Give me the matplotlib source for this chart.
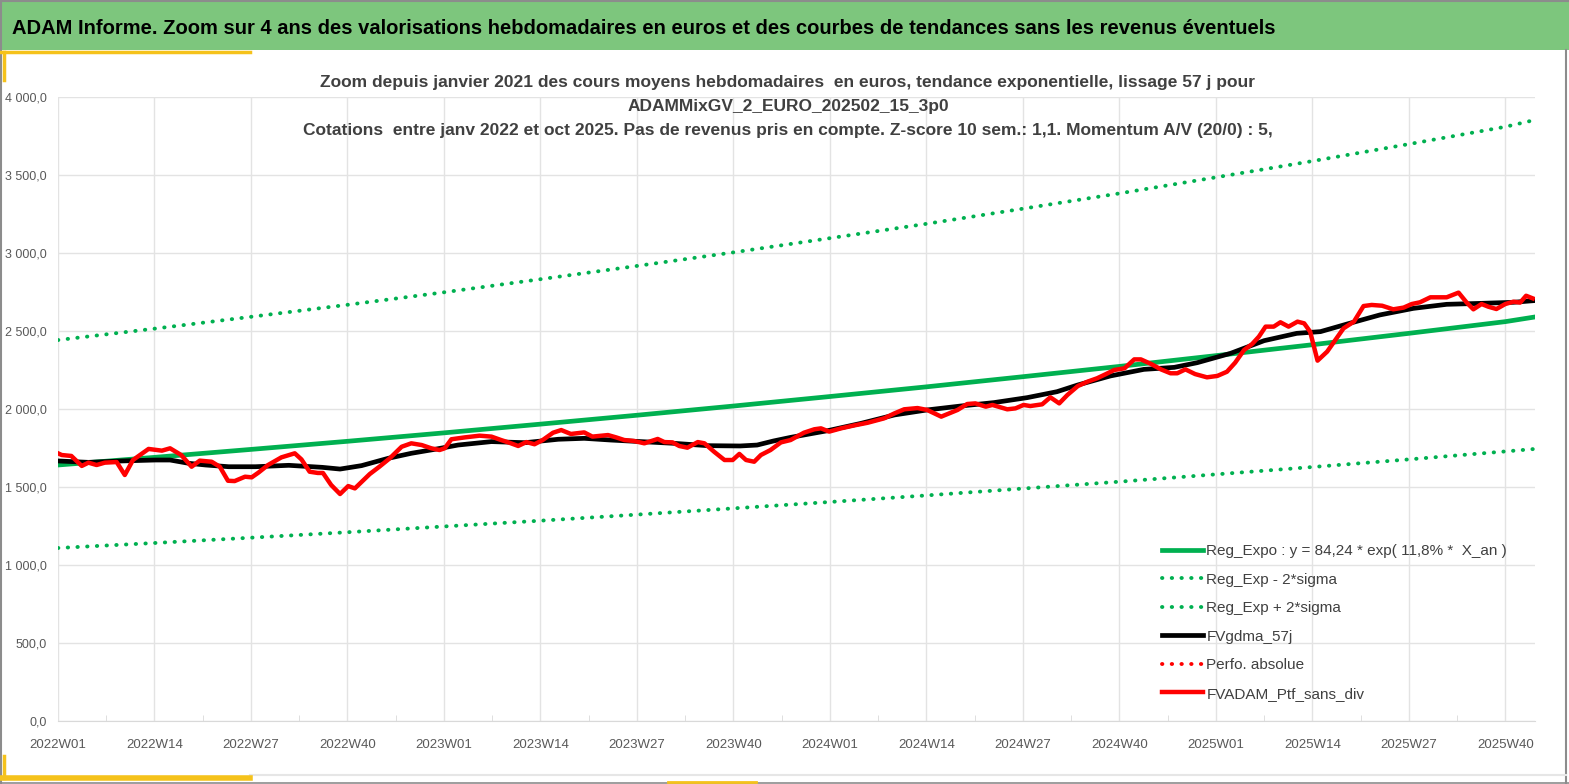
import matplotlib
matplotlib.use("Agg")
import matplotlib.pyplot as plt
from matplotlib.patches import Rectangle
from matplotlib.lines import Line2D

plt.rcParams['font.family'] = ['Liberation Sans Narrow', 'Liberation Sans', 'DejaVu Sans']

# x axis labels every 13 weeks
tick_weeks = [0, 13, 26, 39, 52, 65, 78, 91, 104, 117, 130, 143, 156, 169, 182, 195]
tick_labels = ['2022W01', '2022W14', '2022W27', '2022W40',
               '2023W01', '2023W14', '2023W27', '2023W40',
               '2024W01', '2024W14', '2024W27', '2024W40',
               '2025W01', '2025W14', '2025W27', '2025W40']

# trend + bands (read at grid positions)
trend_weeks = [0, 13, 26, 39, 52, 65, 78, 91, 104, 117, 130, 143, 156, 169, 182, 195, 199]
trend_vals = [1641, 1690, 1741, 1793, 1847, 1903, 1960, 2019, 2080, 2142, 2207, 2273,
              2342, 2412, 2485, 2560, 2590]
upper_vals = [2442, 2515, 2591, 2668, 2748, 2832, 2917, 3004, 3095, 3187, 3284, 3382,
              3485, 3589, 3698, 3809, 3853]
lower_vals = [1109, 1141, 1175, 1210, 1247, 1284, 1323, 1363, 1404, 1446, 1490, 1534,
              1581, 1628, 1677, 1728, 1744]

# smoothed series FVgdma_57j
black_weeks = [0, 4.1, 8.6, 13.1, 15.1, 17.6, 19.9, 23.0, 26.6, 31.1, 35.6, 38.0, 40.9,
               44.5, 47.6, 50.7, 53.9, 58.4, 62.9, 67.4, 70.9, 74.5, 78.5, 83.0, 87.5,
               91.9, 94.2, 96.4, 98.7, 103.7, 108.2, 112.7, 117.1, 121.6, 126.1, 130.6,
               134.6, 137.4, 141.8, 146.3, 150.4, 153.5, 158.0, 162.5, 166.9, 170.1,
               173.7, 178.1, 182.6, 187.1, 191.6, 196.1, 198.7]
black_vals = [1667, 1658, 1667, 1673, 1673, 1652, 1641, 1630, 1630, 1639, 1626, 1615, 1637,
              1684, 1716, 1741, 1769, 1791, 1784, 1806, 1812, 1801, 1791, 1780, 1765,
              1763, 1769, 1795, 1818, 1861, 1908, 1962, 1994, 2019, 2041, 2073,
              2111, 2154, 2212, 2254, 2267, 2297, 2357, 2438, 2485, 2496,
              2545, 2603, 2645, 2671, 2677, 2684, 2694]

# weekly portfolio value FVADAM_Ptf_sans_div
red_weeks = [0, 0.5, 1.8, 3.2, 4.1, 5.2, 6.3, 7.9, 9.0, 10.1, 12.2, 14.0, 15.1, 16.6, 18.0,
             19.1, 20.7, 21.8, 22.9, 23.8, 25.2, 26.1, 27.0, 28.3, 30.1, 31.9, 32.8, 33.9,
             35.0, 35.7, 36.8, 38.0, 39.1, 40.0, 42.0, 43.3, 44.7, 46.3, 47.6, 49.0,
             50.3, 51.4, 52.1, 53.0, 54.8, 56.8, 58.4, 59.7, 60.8, 62.0, 63.1, 64.2, 65.3,
             66.7, 67.8, 69.1, 70.9, 72.0, 74.1, 75.2, 76.3, 77.6, 79.0, 80.8, 81.7, 82.8,
             83.7, 84.8, 86.2, 87.1, 88.4, 89.8, 90.9, 91.8, 92.7, 93.8, 94.7, 96.0, 97.4,
             98.7, 100.5, 101.9, 102.8, 103.9, 105.5, 107.3, 109.1, 111.3, 112.7, 114.0,
             115.8, 117.1, 119.0, 120.3, 121.2, 122.5, 123.6, 125.0, 125.9, 127.9, 129.0,
             130.1, 131.0, 132.6, 133.7, 134.9, 136.0, 137.4, 138.7, 140.0, 141.2, 142.3,
             143.7, 145.0, 145.9, 147.3, 148.6, 149.9, 150.8, 151.9, 153.2, 154.8, 156.2,
             157.5, 158.6, 159.8, 160.9, 161.8, 162.7, 163.8, 164.7, 165.8, 167.0, 167.9,
             168.7, 169.7, 171.0, 172.1, 173.2, 174.6, 175.9, 177.0, 178.4, 179.9, 181.3,
             182.4, 183.5, 184.9, 186.0, 187.1, 188.7, 189.8, 190.7, 191.8, 192.7, 193.8,
             195.0, 196.1, 197.0, 197.8, 198.7]
red_vals = [1716, 1705, 1699, 1635, 1656, 1641, 1656, 1660, 1577, 1673, 1744, 1733, 1748, 1705, 1630,
            1669, 1662, 1630, 1540, 1538, 1566, 1562, 1592, 1641, 1690, 1716, 1677, 1598,
            1590, 1590, 1513, 1455, 1506, 1491, 1583, 1630, 1684, 1758, 1780, 1769,
            1748, 1737, 1748, 1806, 1818, 1829, 1823, 1801, 1784, 1763, 1788, 1774, 1801,
            1848, 1865, 1840, 1850, 1823, 1833, 1818, 1801, 1795, 1780, 1808, 1788, 1786,
            1763, 1752, 1788, 1780, 1726, 1673, 1673, 1712, 1673, 1662, 1705, 1737, 1786,
            1801, 1848, 1870, 1876, 1855, 1876, 1895, 1912, 1940, 1972, 1998,
            2006, 1994, 1951, 1976, 1994, 2032, 2036, 2015, 2026, 1998, 2004,
            2026, 2019, 2030, 2075, 2036, 2090, 2147, 2175, 2197, 2224, 2250,
            2261, 2318, 2318, 2288, 2254, 2229, 2229, 2254, 2224, 2203, 2212,
            2239, 2297, 2378, 2417, 2464, 2528, 2528, 2556, 2528, 2560, 2549,
            2496, 2310, 2368, 2442, 2517, 2560, 2660, 2667, 2662, 2639, 2650,
            2673, 2684, 2716, 2716, 2716, 2746, 2682, 2639, 2673, 2656, 2641,
            2673, 2688, 2682, 2726, 2709]

W, H = 1569, 784
fig = plt.figure(figsize=(W / 100, H / 100), dpi=100)
fig.patch.set_facecolor('white')


def fx(x):
    return x / W


def fy(y):
    return 1 - y / H


# header band and frame bits
fig.patches.append(Rectangle((0, fy(50)), 1, fy(2) - fy(50), transform=fig.transFigure,
                             facecolor='#7DC67D', edgecolor='none'))
fig.add_artist(Line2D([0, 1], [fy(1), fy(1)], color='#8C8C8C', lw=1.5))
fig.add_artist(Line2D([fx(1), fx(1)], [fy(0), fy(784)], color='#8C8C8C', lw=1.5))
fig.add_artist(Line2D([fx(1566), fx(1566)], [fy(50), fy(784)], color='#8C8C8C', lw=1.5))
fig.add_artist(Line2D([fx(250), fx(1566)], [fy(775), fy(775)], color='#E6E6E6', lw=1.5))
fig.add_artist(Line2D([fx(0), fx(1569)], [fy(783), fy(783)], color='#8C8C8C', lw=1.2))
yellow = '#F5C21B'
fig.add_artist(Line2D([fx(0), fx(250)], [fy(52), fy(52)], color=yellow, lw=2.5))
fig.add_artist(Line2D([fx(4), fx(4)], [fy(52), fy(80)], color=yellow, lw=2.5))
fig.add_artist(Line2D([fx(0), fx(250)], [fy(778), fy(778)], color=yellow, lw=4))
fig.add_artist(Line2D([fx(4), fx(4)], [fy(756), fy(778)], color=yellow, lw=2.5))
fig.add_artist(Line2D([fx(668), fx(756)], [fy(782), fy(782)], color=yellow, lw=2))

fig.text(fx(12), fy(28), "ADAM Informe. Zoom sur 4 ans des valorisations hebdomadaires en euros "
         "et des courbes de tendances sans les revenus éventuels",
         fontsize=14.5, fontweight='bold', color='black', va='center', ha='left')

title_color = '#404040'
fig.text(fx(788), fy(82), "Zoom depuis janvier 2021 des cours moyens hebdomadaires  en euros, "
         "tendance exponentielle, lissage 57 j pour",
         fontsize=12.5, fontweight='bold', color=title_color, ha='center', va='center')
fig.text(fx(788), fy(106), "ADAMMixGV_2_EURO_202502_15_3p0",
         fontsize=12.5, fontweight='bold', color=title_color, ha='center', va='center')
fig.text(fx(788), fy(130), "Cotations  entre janv 2022 et oct 2025. Pas de revenus pris en compte. "
         "Z-score 10 sem.: 1,1. Momentum A/V (20/0) : 5,",
         fontsize=12.5, fontweight='bold', color=title_color, ha='center', va='center')

ax = fig.add_axes([fx(58), fy(721), fx(1535) - fx(58), fy(97) - fy(721)])
ax.set_facecolor('none')

green = '#00B050'
dot = (0, (0.1, 2.4))
ax.plot(trend_weeks, trend_vals, color=green, lw=3.4,
        label='Reg_Expo : y = 84,24 * exp( 11,8% *  X_an )', zorder=3)
ax.plot(trend_weeks, lower_vals, color=green, lw=2.8, linestyle=dot, dash_capstyle='round',
        label='Reg_Exp - 2*sigma', zorder=3)
ax.plot(trend_weeks, upper_vals, color=green, lw=2.8, linestyle=dot, dash_capstyle='round',
        label='Reg_Exp + 2*sigma', zorder=3)
ax.plot(black_weeks, black_vals, color='black', lw=3.4, label='FVgdma_57j', zorder=4)
ax.plot([], [], color='#FF0000', lw=2.8, linestyle=dot, dash_capstyle='round',
        label='Perfo. absolue')
ax.plot(red_weeks, red_vals, color='#FF0000', lw=3.2, label='FVADAM_Ptf_sans_div', zorder=5,
        solid_joinstyle='round')

ax.set_xlim(0, 199)
ax.set_ylim(0, 4000)
ax.set_yticks(range(0, 4001, 500))
ax.set_yticklabels([f"{v:,.1f}".replace(',', ' ').replace('.', ',') for v in range(0, 4001, 500)])
ax.set_xticks(tick_weeks)
ax.set_xticklabels(tick_labels)
ax.set_xticks([w + 6.5 for w in tick_weeks[:-1]], minor=True)

ax.grid(True, which='major', color='#E3E3E3', lw=1)
ax.set_axisbelow(True)
for s in ['top', 'right', 'left']:
    ax.spines[s].set_visible(False)
ax.spines['bottom'].set_color('#D9D9D9')
ax.tick_params(axis='y', length=0, labelsize=9, labelcolor='#595959', pad=8)
ax.tick_params(axis='x', which='major', length=0, labelsize=9.5, labelcolor='#595959', pad=13)
ax.tick_params(axis='x', which='minor', direction='in', length=4, color='#D9D9D9')

leg = ax.legend(loc='upper left', bbox_to_anchor=(fx(1156), fy(538)),
                bbox_transform=fig.transFigure, frameon=False, fontsize=11,
                handlelength=2.7, handletextpad=0.2, labelspacing=0.95, borderaxespad=0)
for t in leg.get_texts():
    t.set_color('#404040')

fig.savefig('out.png', dpi=100)
